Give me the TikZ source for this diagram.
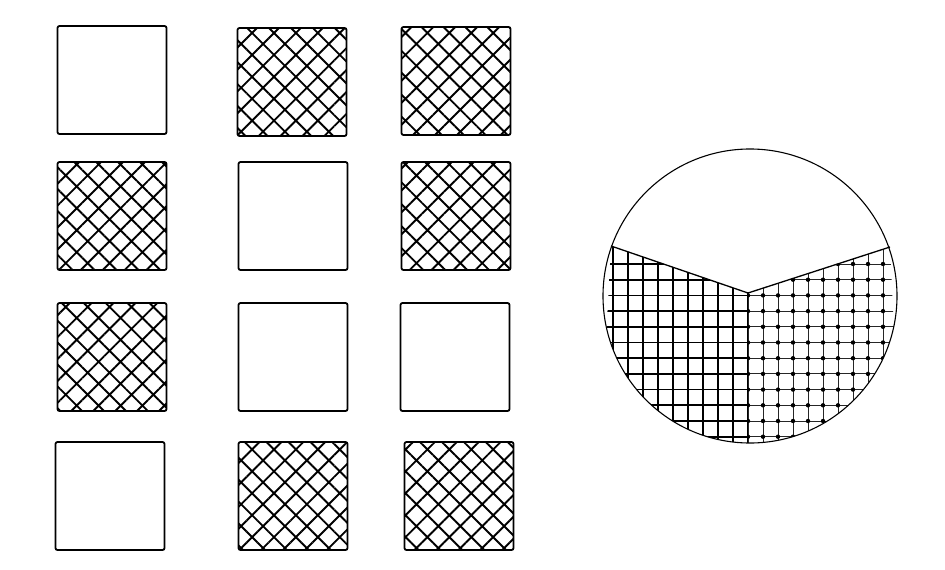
\documentclass[tikz,border=0pt]{standalone}
\usetikzlibrary{patterns.meta}
\tikzstyle{plain}=[draw, line width=1.8pt, rounded corners=2pt, minimum width=109pt, minimum height=108pt, inner sep=0pt]
\tikzstyle{hatched}=[plain, pattern={Hatch[angle=45, distance=15.5pt, line width=1.9pt]}]
\tikzstyle{heavy}=[line width=1.7pt]
\tikzstyle{light}=[line width=1pt, black!85]

\begin{document}
\begin{tikzpicture}[x=1pt, y=-1pt]
\fill[white] (0,0) rectangle (945,570);
\node[plain] at (112, 80) (c11) {};
\node[hatched] at (292, 82) (c12) {};
\node[hatched] at (456, 81) (c13) {};
\node[hatched] at (112, 216) (c21) {};
\node[plain] at (293, 216) (c22) {};
\node[hatched] at (456, 216) (c23) {};
\node[hatched] at (112, 357) (c31) {};
\node[plain] at (293, 357) (c32) {};
\node[plain] at (455, 357) (c33) {};
\node[plain] at (110, 496) (c41) {};
\node[hatched] at (293, 496) (c42) {};
\node[hatched] at (459, 496) (c43) {};
% the disc
\coordinate (o) at (750, 296);
\coordinate (vl) at (611, 246);
\coordinate (vm) at (748, 293);
\coordinate (vr) at (890, 247);
\begin{scope}
\clip (o) circle (147pt);
\clip (vl) -- (vm) -- (vr) -- (900, 450) -- (600, 450) -- cycle;
\begin{scope}
\clip (590, 230) rectangle (748, 450);
\foreach \x in {613,628,...,748} \draw[heavy] (\x, 230) -- (\x, 450);
\foreach \k in {0,...,12} \draw[heavy] (590, {264+15.7*\k}) -- (748, {264+15.7*\k});
\foreach \x in {613,628,...,733}
  \foreach \k in {0,...,12} \fill (\x, {264+15.7*\k}) circle (1.5pt);
\end{scope}
\begin{scope}
\clip (748, 230) rectangle (900, 450);
\foreach \x in {748,763,...,898} \draw[light] (\x, 230) -- (\x, 450);
\foreach \k in {0,...,12} \draw[light] (748, {264+15.7*\k}) -- (900, {264+15.7*\k});
\foreach \x in {748,763,...,898}
  \foreach \k in {0,...,12} \fill (\x, {264+15.7*\k}) circle (2.2pt);
\end{scope}
\end{scope}
\draw[line width=1.3pt] (vl) -- (vm) -- (vr);
\draw[line width=1.1pt] (o) circle (147pt);
\end{tikzpicture}
\end{document}
